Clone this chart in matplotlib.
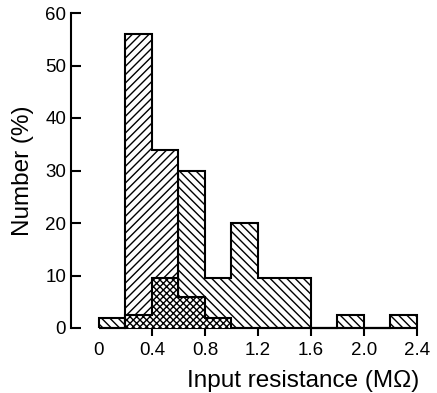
import matplotlib.pyplot as plt
import numpy as np

plt.rcParams['font.family'] = ['Liberation Sans', 'DejaVu Sans']
plt.rcParams['hatch.linewidth'] = 1.0

# bin edges (MOhm), 0.2 wide
edges = np.round(np.arange(0, 2.41, 0.2), 2)

# three groups, percentage per bin
group_a = [0, 56, 34, 0, 0, 0, 0, 0, 0, 0, 0, 0]          # ///
group_b = [2, 0, 0, 30, 9.5, 20, 9.5, 9.5, 0, 2.5, 0, 2.5]  # \\\
group_c = [0, 2.5, 9.5, 6, 2, 0, 0, 0, 0, 0, 0, 0]        # crosshatch

xticks = [0, 0.4, 0.8, 1.2, 1.6, 2.0, 2.4]
xticklabels = ['0', '0.4', '0.8', '1.2', '1.6', '2.0', '2.4']
yticks = [0, 10, 20, 30, 40, 50, 60]

fig = plt.figure(figsize=(4.37, 3.93), dpi=100)
ax = fig.add_axes([71 / 437, 65 / 393, 352.6 / 437, 315 / 393])

ax.stairs(group_b, edges, fill=True, hatch='\\\\\\\\', facecolor='white',
          edgecolor='black', linewidth=1.5, clip_on=False)
ax.stairs(group_a, edges, fill=True, hatch='////', facecolor='white',
          edgecolor='black', linewidth=1.5, clip_on=False)
ax.stairs(group_c, edges, fill=True, hatch='xxxxx', facecolor='white',
          edgecolor='black', linewidth=1.5, clip_on=False)

ax.set_xlim(-0.21, 2.45)
ax.set_ylim(0, 60)

for s in ['top', 'right', 'bottom']:
    ax.spines[s].set_visible(False)
ax.spines['left'].set_linewidth(1.5)

ax.set_xticks(xticks)
ax.set_xticklabels(xticklabels)
ax.set_yticks(yticks)
ax.tick_params(axis='x', direction='out', length=6, width=1.5, pad=4, labelsize=13.5)
ax.tick_params(axis='y', direction='in', length=7, width=1.5, pad=3.5, labelsize=13.5)
ax.xaxis.get_major_ticks()[0].tick1line.set_visible(False)

ax.set_xlabel('Input resistance (M\u03a9)', fontsize=17.5)
ax.xaxis.set_label_coords(0.659, -0.133)
ax.set_ylabel('Number (%)', fontsize=17.5)
ax.yaxis.set_label_coords(-0.105, 0.5)

fig.savefig('out.png', dpi=100)
